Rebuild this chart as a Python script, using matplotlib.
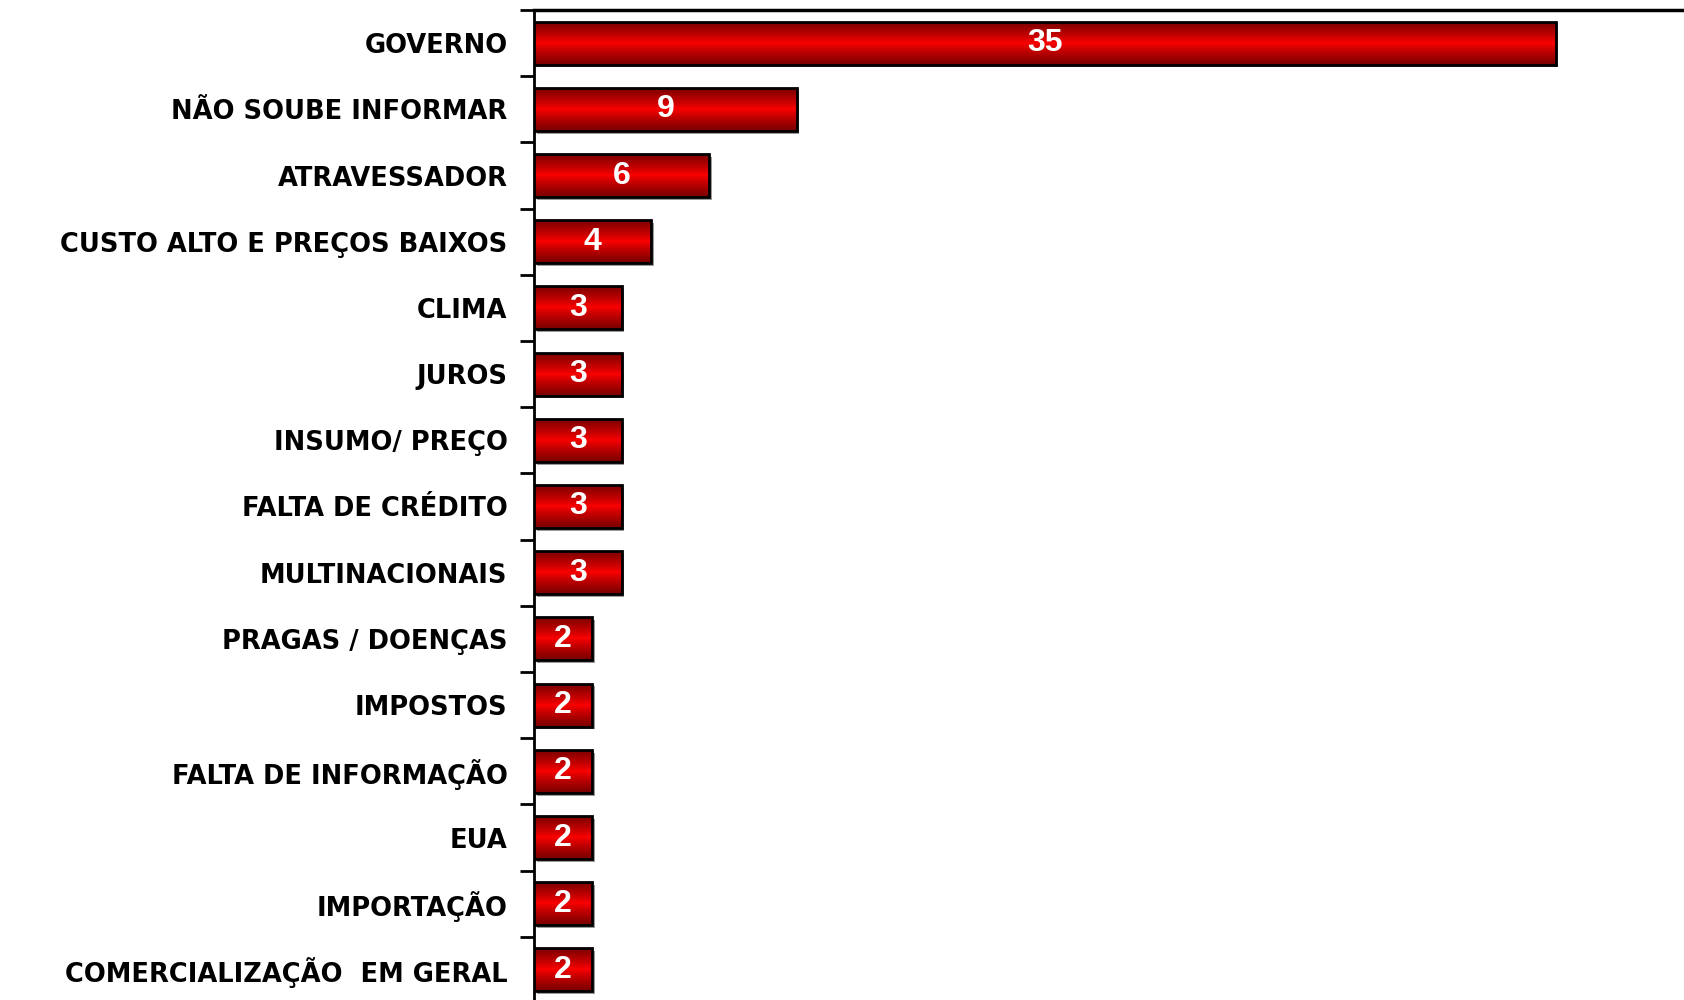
import numpy as np
import matplotlib.pyplot as plt
import matplotlib.patheffects as pe
from matplotlib.colors import LinearSegmentedColormap

categories = ['GOVERNO', 'NÃO SOUBE INFORMAR', 'ATRAVESSADOR', 'CUSTO ALTO E PREÇOS BAIXOS',
              'CLIMA', 'JUROS', 'INSUMO/ PREÇO', 'FALTA DE CRÉDITO', 'MULTINACIONAIS',
              'PRAGAS / DOENÇAS', 'IMPOSTOS', 'FALTA DE INFORMAÇÃO', 'EUA', 'IMPORTAÇÃO',
              'COMERCIALIZAÇÃO  EM GERAL']
values = [35, 9, 6, 4, 3, 3, 3, 3, 3, 2, 2, 2, 2, 2, 2]

plt.rcParams['font.family'] = ['Liberation Sans', 'DejaVu Sans']

fig = plt.figure(figsize=(16.84, 10), dpi=100)
ax = fig.add_axes([534/1684, -0.003, 1 - 534/1684, 0.993])

ypos = np.arange(len(categories))
bar_h = 0.65

# red "tube" gradient: dark at the edges, bright in the middle
cmap = LinearSegmentedColormap.from_list('tube', ['#7a0000', '#ff0000', '#7a0000'])
t = np.linspace(-1, 1, 64)
grad = (np.sign(t) * np.abs(t) ** 0.8 + 1) / 2
grad = grad.reshape(-1, 1)

# shadow
ax.barh(ypos, values, height=bar_h, color='#9a9a9a', zorder=1,
        path_effects=[pe.SimplePatchShadow(offset=(2, -2), shadow_rgbFace='#9a9a9a', alpha=1)])
bars = ax.barh(ypos, values, height=bar_h, facecolor='none', edgecolor='black',
               linewidth=2, zorder=4)
for b, v in zip(bars, values):
    y0 = b.get_y()
    im = ax.imshow(grad, cmap=cmap, aspect='auto', interpolation='bicubic',
                   extent=[0, v, y0 + bar_h, y0], zorder=3)
    im.set_clip_path(b)
    ax.text(v / 2, b.get_y() + bar_h / 2, str(v), color='white', fontsize=23,
            fontweight='bold', ha='center', va='center', zorder=5)

ax.set_xlim(0, 39.4)
ax.set_ylim(len(categories) - 0.5, -0.5)
ax.set_yticks(ypos)
ax.set_yticklabels(categories, fontsize=18.5, fontweight='bold', family='DejaVu Sans')
ax.set_yticks(np.arange(len(categories) + 1) - 0.5, minor=True)
ax.tick_params(axis='y', which='major', length=0, pad=19)
ax.tick_params(axis='y', which='minor', length=10, width=2)
ax.set_xticks([])
ax.spines['right'].set_visible(False)
ax.spines['bottom'].set_visible(False)
ax.spines['top'].set_linewidth(2.5)
ax.spines['left'].set_linewidth(2)

plt.savefig('out.png', dpi=100)
